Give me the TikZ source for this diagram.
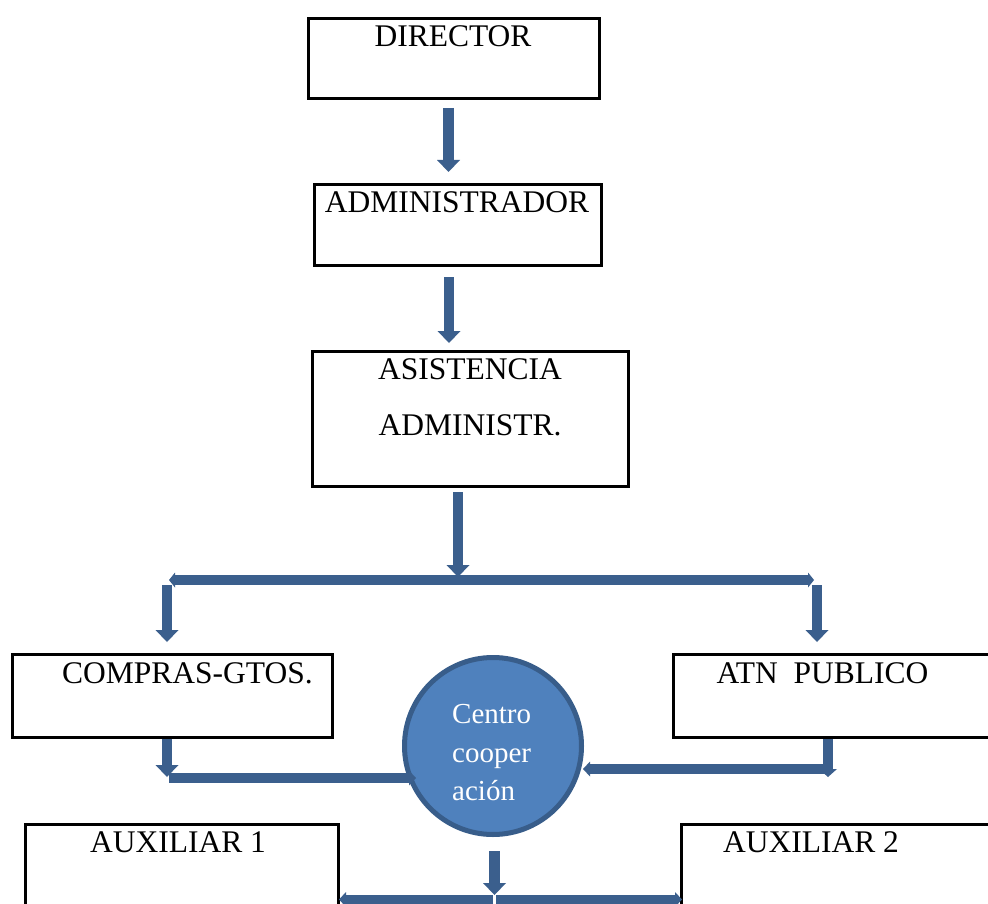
\documentclass[tikz,border=0pt]{standalone}
\usepackage{fontspec}
\setmainfont{Liberation Serif}
\usetikzlibrary{arrows.meta,shapes.geometric}
\definecolor{arr}{HTML}{3B5F8D}
\definecolor{cfill}{HTML}{4F81BD}
\definecolor{cedge}{HTML}{385D8A}
\tikzset{
  box/.style={draw=black, line width=2.7pt, inner sep=0pt},
  lbl/.style={anchor=base, inner sep=0pt, font=\fontsize{31.5}{38}\selectfont},
  clbl/.style={anchor=base west, inner sep=0pt, text=white, font=\fontsize{29}{35}\selectfont},
  bigarrow/.style={draw=arr, line width=10.5pt, -{Triangle[width=23pt,length=12pt,line width=0pt]}},
  smalltip/.style={draw=arr, line width=10pt, -{Triangle[width=15pt,length=7pt,line width=0pt]}},
  midtip/.style={draw=arr, line width=9.5pt, -{Triangle[width=18pt,length=8pt,line width=0pt]}},
  bothtip/.style={draw=arr, line width=10pt, {Triangle[width=15pt,length=6pt,line width=0pt]}-{Triangle[width=15pt,length=6pt,line width=0pt]}}
}
\begin{document}
\begin{tikzpicture}[x=1pt,y=-1pt]
\clip (0,0) rectangle (988,904);
\fill[white] (0,0) rectangle (988,904);
% boxes
\node[box, minimum width=291.3pt, minimum height=80.3pt] (dir) at (454,58.5) {};
\node[box, minimum width=287.3pt, minimum height=81.3pt] (adm) at (458,225) {};
\node[box, minimum width=316.3pt, minimum height=135.3pt] (asi) at (470.5,419) {};
\node[box, minimum width=320.3pt, minimum height=83.3pt] (com) at (172.5,696) {};
\node[box, minimum width=325.3pt, minimum height=83.3pt] (atn) at (836,696) {};
\node[box, minimum width=313.3pt, minimum height=104.3pt] (au1) at (182,876.5) {};
\node[box, minimum width=317.3pt, minimum height=104.3pt] (au2) at (840,876.5) {};
\node[circle, draw=cedge, fill=cfill, line width=5pt, minimum size=177pt, inner sep=0pt] (cen) at (493,746) {};
% texts
\node[lbl] (dirt) at (453,47) {DIRECTOR};
\node[lbl] (admt) at (457,213) {ADMINISTRADOR};
\node[lbl] (asit1) at (470,379) {ASISTENCIA};
\node[lbl] (asit2) at (470,435) {ADMINISTR.};
\node[lbl] (comt) at (187.5,683) {COMPRAS-GTOS.};
\node[lbl] (atnt) at (822.5,683) {ATN\ \ PUBLICO};
\node[lbl] (au1t) at (178,852) {AUXILIAR 1};
\node[lbl] (au2t) at (811,852) {AUXILIAR 2};
\node[clbl] (cent1) at (452,723) {Centro};
\node[clbl] (cent2) at (452,762) {cooper};
\node[clbl] (cent3) at (452,800) {ación};
% connector points
\coordinate (a1s) at (448.5,108); \coordinate (a1e) at (448.5,172);
\coordinate (a2s) at (449,277);   \coordinate (a2e) at (449,343);
\coordinate (a3s) at (458,492);   \coordinate (a3e) at (458,577);
\coordinate (barl) at (169,580);  \coordinate (barr) at (814,580);
\coordinate (dls) at (167,585);   \coordinate (dle) at (167,642);
\coordinate (drs) at (817,585);   \coordinate (dre) at (817,642);
\coordinate (c1s) at (167,739);   \coordinate (c1e) at (167,777);
\coordinate (c2s) at (169,778);   \coordinate (c2e) at (416,778);
\coordinate (t1s) at (828,739);   \coordinate (t1e) at (828,777);
\coordinate (t2s) at (828,769);   \coordinate (t2e) at (583,769);
\coordinate (b1s) at (494.5,851); \coordinate (b1e) at (494.5,895);
\coordinate (b2s) at (493,899.5); \coordinate (b2e) at (339,899.5);
\coordinate (b3s) at (496,899.5); \coordinate (b3e) at (682,899.5);
% connectors
\draw[bigarrow] (a1s) -- (a1e);
\draw[bigarrow] (a2s) -- (a2e);
\draw[bothtip] (barl) -- (barr);
\draw[bigarrow] (a3s) -- (a3e);
\draw[bigarrow] (dls) -- (dle);
\draw[bigarrow] (drs) -- (dre);
\draw[smalltip] (c2s) -- (c2e);
\draw[bigarrow, line width=9.5pt] (c1s) -- (c1e);
\draw[smalltip] (t2s) -- (t2e);
\draw[midtip] (t1s) -- (t1e);
\draw[bigarrow] (b1s) -- (b1e);
\draw[smalltip] (b2s) -- (b2e);
\draw[smalltip] (b3s) -- (b3e);
\end{tikzpicture}
\end{document}
